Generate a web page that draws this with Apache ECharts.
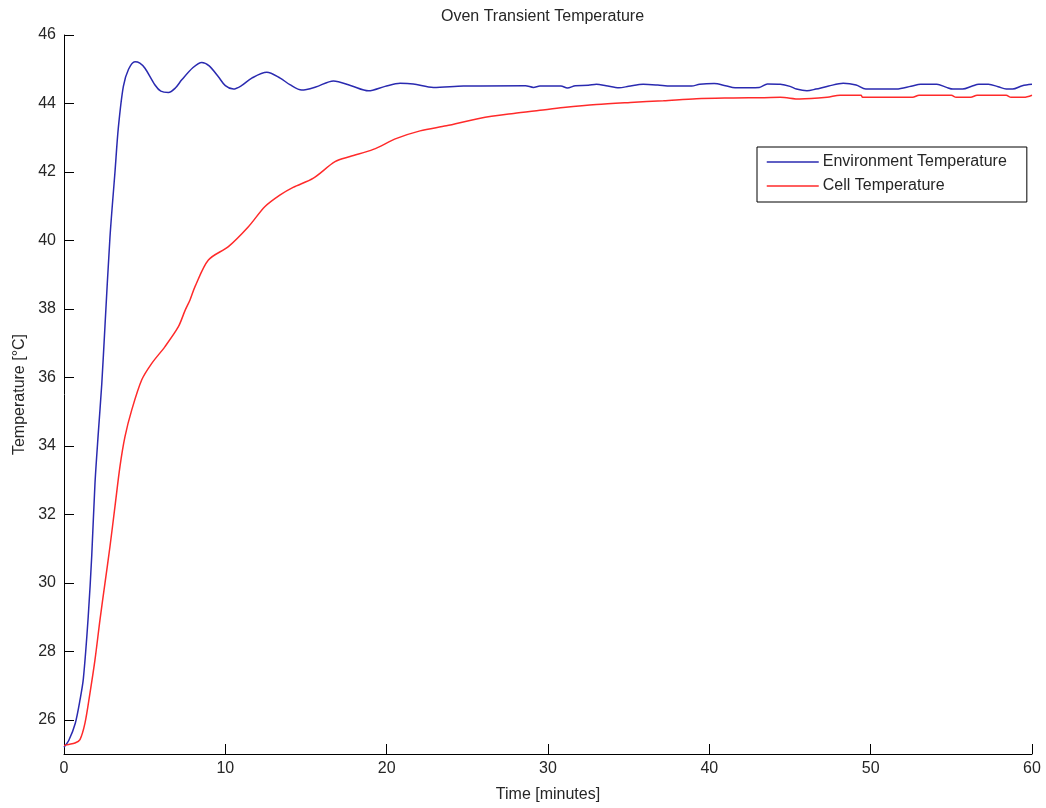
<!DOCTYPE html>
<html>
<head>
<meta charset="utf-8">
<script src="https://cdn.jsdelivr.net/npm/echarts@6/dist/echarts.min.js"></script>
<style>
html,body{margin:0;padding:0;background:#fff;}
#c{width:1046px;height:808px;}
</style>
</head>
<body>
<div id="c"></div>
<script>
// ---- data ----
const titleText = 'Oven Transient Temperature';
const xName = 'Time [minutes]';
const yName = 'Temperature [°C]';
const seriesNames = ['Environment Temperature', 'Cell Temperature'];
const yTicks = [26, 28, 30, 32, 34, 36, 38, 40, 42, 44, 46];

const envT = [0, 0.3, 0.7, 1.0, 1.2, 1.5, 1.72, 1.92, 2.13, 2.34, 2.54, 2.85, 3.16, 3.37, 3.68, 4.0, 4.4, 4.7, 5.02, 5.64, 6.0, 6.47, 6.9, 7.3, 8.0, 8.54, 9.0, 9.57, 10.0, 10.5, 11.0, 11.64, 12.57, 13.4, 14.0, 14.73, 15.6, 16.7, 17.8, 18.87, 19.9, 20.83, 21.65, 22.9, 24.76, 28.6, 29.1, 29.5, 30.8, 31.2, 31.7, 32.5, 33.0, 33.6, 34.4, 35.0, 35.9, 36.8, 37.6, 38.9, 39.4, 40.3, 41.0, 41.6, 43.1, 43.6, 44.4, 45.0, 45.4, 46.05, 46.6, 47.4, 48.3, 49.1, 49.7, 51.6, 52.5, 53.1, 54.1, 54.7, 55.1, 55.7, 56.3, 56.7, 57.3, 57.9, 58.4, 58.8, 59.4, 60.0];
const envV = [25.2, 25.4, 25.9, 26.6, 27.2, 29.0, 30.8, 32.9, 34.4, 35.8, 37.5, 40.1, 42.0, 43.3, 44.5, 45.0, 45.22, 45.18, 45.03, 44.54, 44.36, 44.32, 44.45, 44.69, 45.05, 45.2, 45.1, 44.78, 44.52, 44.42, 44.52, 44.74, 44.91, 44.74, 44.55, 44.39, 44.48, 44.66, 44.52, 44.37, 44.5, 44.59, 44.57, 44.47, 44.51, 44.52, 44.47, 44.51, 44.51, 44.45, 44.52, 44.53, 44.56, 44.52, 44.46, 44.5, 44.56, 44.54, 44.51, 44.51, 44.56, 44.58, 44.52, 44.46, 44.47, 44.57, 44.56, 44.5, 44.42, 44.37, 44.42, 44.51, 44.59, 44.54, 44.42, 44.42, 44.5, 44.56, 44.56, 44.47, 44.42, 44.42, 44.51, 44.56, 44.56, 44.49, 44.42, 44.42, 44.52, 44.56];

const cellT = [0, 0.3, 0.68, 0.99, 1.3, 1.61, 1.92, 2.23, 2.54, 2.85, 3.16, 3.47, 3.78, 4.2, 4.82, 5.44, 6.26, 7.09, 7.5, 7.81, 8.12, 8.95, 10.19, 11.43, 12.46, 13.4, 14.2, 15.46, 16.8, 17.73, 19.17, 20.62, 22.07, 23.7, 25.8, 27.87, 29.5, 30.95, 33.0, 35.1, 37.15, 39.2, 41.5, 43.4, 44.4, 45.6, 47.3, 48.1, 49.4, 49.5, 52.6, 53.0, 55.0, 55.3, 56.2, 56.6, 58.4, 58.7, 59.5, 60.0];
const cellV = [25.25, 25.28, 25.32, 25.42, 25.9, 26.78, 27.75, 28.92, 29.99, 31.06, 32.23, 33.4, 34.27, 35.05, 35.93, 36.41, 36.9, 37.48, 37.95, 38.26, 38.65, 39.43, 39.82, 40.4, 40.99, 41.33, 41.55, 41.82, 42.3, 42.45, 42.66, 42.98, 43.2, 43.35, 43.57, 43.71, 43.8, 43.88, 43.97, 44.03, 44.08, 44.14, 44.16, 44.17, 44.18, 44.13, 44.18, 44.24, 44.24, 44.18, 44.18, 44.24, 44.24, 44.18, 44.18, 44.24, 44.24, 44.18, 44.18, 44.24];

// ---- chart ----
const pairs = (xs, ys) => xs.map((x, i) => [x, ys[i]]);
const font = 'Liberation Sans, Arial, sans-serif';
const txt = '#262626';
const chart = echarts.init(document.getElementById('c'), null, {renderer: 'canvas'});
chart.setOption({
  animation: false,
  backgroundColor: '#fff',
  title: {
    text: titleText, left: 441, top: 9, padding: 0,
    textStyle: {fontFamily: font, fontSize: 16, fontWeight: 'normal', color: txt}
  },
  grid: {left: 64, right: 14, top: 35, bottom: 54, containLabel: false},
  legend: {
    orient: 'vertical', left: 757, top: 147,
    data: seriesNames,
    itemWidth: 52, itemHeight: 14, itemGap: 8,
    padding: [7, 20, 8, 9],
    borderColor: '#000', borderWidth: 1, backgroundColor: '#fff',
    itemStyle: {opacity: 0},
    lineStyle: {width: 1.5},
    textStyle: {fontFamily: font, fontSize: 16, color: txt, padding: [0, 0, 0, -1]}
  },
  xAxis: {
    type: 'value', min: 0, max: 60, interval: 10,
    name: xName, nameLocation: 'middle', nameGap: 33,
    nameTextStyle: {fontFamily: font, fontSize: 16, color: txt},
    axisLine: {show: true, onZero: false, lineStyle: {color: '#000', width: 1}},
    axisTick: {show: true, inside: true, length: 10, lineStyle: {color: '#000'}},
    axisLabel: {fontFamily: font, fontSize: 16, color: txt, margin: 7},
    splitLine: {show: false}
  },
  yAxis: {
    type: 'value', min: 25, max: 46,
    name: yName, nameLocation: 'middle', nameGap: 34, nameRotate: 90,
    nameTextStyle: {fontFamily: font, fontSize: 16, color: txt},
    axisLine: {show: true, onZero: false, lineStyle: {color: '#000', width: 1}},
    axisTick: {show: true, inside: true, length: 10, customValues: yTicks, lineStyle: {color: '#000'}},
    axisLabel: {fontFamily: font, fontSize: 16, color: txt, margin: 8, customValues: yTicks},
    splitLine: {show: false}
  },
  series: [
    {
      name: seriesNames[0], type: 'line', data: pairs(envT, envV),
      symbol: 'none', smooth: 0.3,
      lineStyle: {color: '#2a2ab0', width: 1.5}, itemStyle: {color: '#2a2ab0'}
    },
    {
      name: seriesNames[1], type: 'line', data: pairs(cellT, cellV),
      symbol: 'none', smooth: 0.3,
      lineStyle: {color: '#ff2a2a', width: 1.5}, itemStyle: {color: '#ff2a2a'}
    }
  ]
});
</script>
</body>
</html>
